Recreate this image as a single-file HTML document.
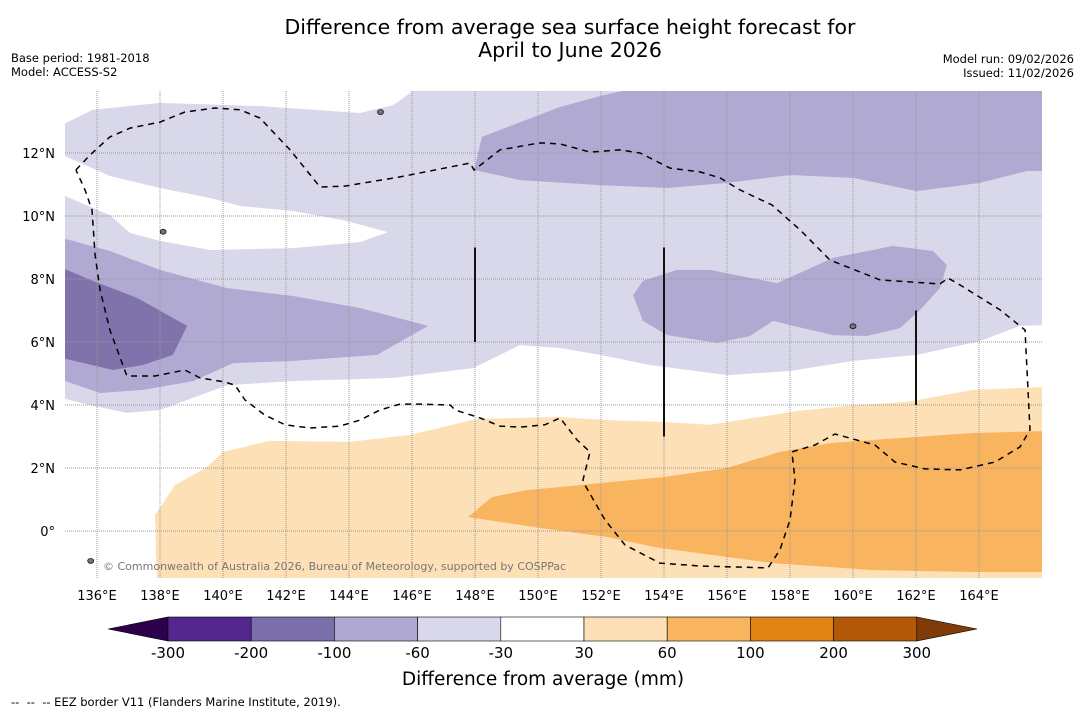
<!DOCTYPE html>
<html><head><meta charset="utf-8">
<style>
html,body{margin:0;padding:0;background:#fff;}
svg{display:block;font-family:"DejaVu Sans","Liberation Sans",sans-serif;}
</style></head>
<body>
<svg id="chart" width="1085" height="713" viewBox="0 0 1085 713" xmlns="http://www.w3.org/2000/svg">
<defs><clipPath id="plotclip"><rect x="65" y="91" width="977" height="487"/></clipPath></defs>
<text x="570" y="34" font-size="20.5" text-anchor="middle" fill="#000">Difference from average sea surface height forecast for</text>
<text x="570" y="57" font-size="20.5" text-anchor="middle" fill="#000">April to June 2026</text>
<text x="11" y="62" font-size="11.5">Base period: 1981-2018</text>
<text x="11" y="76" font-size="11.5">Model: ACCESS-S2</text>
<text x="1074" y="63" font-size="11.5" text-anchor="end">Model run: 09/02/2026</text>
<text x="1074" y="77" font-size="11.5" text-anchor="end">Issued: 11/02/2026</text>
<g id="plot" clip-path="url(#plotclip)"></g>
<g id="axes"></g>
<g id="cbar"></g>
<text x="543" y="685" font-size="18.5" text-anchor="middle">Difference from average (mm)</text>
<text x="11" y="706" font-size="11.5" xml:space="preserve">--  --  -- EEZ border V11 (Flanders Marine Institute, 2019).</text>
</svg>
<script>
const lonTicks=[136,138,140,142,144,146,148,150,152,154,156,158,160,162,164];
const latTicks=[0,2,4,6,8,10,12];
const cbarLevels=[-300,-200,-100,-60,-30,30,60,100,200,300];
const cbarColors=["#54278f","#7b6fab","#afa9d1","#d8d8ea","#ffffff","#fde0b6","#f9b460","#e08214","#b35806"];
const lightPurple=[[135,12.95],[135.87,13.37],[138,13.59],[141.17,13.49],[144.35,13.27],[145.4,13.52],[145.94,13.9],[146.1,14.1],[166.1,14.1],[166.1,6.54],[165.3,6.51],[164.03,6.03],[162.03,5.59],[160,5.4],[158,5.08],[156,4.95],[153.56,5.27],[151.97,5.59],[150.7,5.81],[149.43,5.9],[147.94,5.17],[145.4,4.86],[142.22,4.76],[140.13,4.63],[138,3.84],[136.95,3.75],[135.87,3.97],[134.9,4.22],[134.9,12.95]];
const whiteGap=[[134.9,11.94],[136.41,11.27],[138,10.89],[139.59,10.57],[140.54,10.32],[142.22,10.16],[143.81,9.87],[145.24,9.49],[144.35,9.17],[142.22,8.98],[139.59,8.92],[138,9.21],[137.05,9.46],[136.41,10.03],[134.9,10.67]];
const mediumPurpleLeft=[[134.9,9.3],[136.41,8.89],[138,8.29],[140.13,7.71],[142.22,7.46],[144.35,7.08],[146.51,6.51],[145.84,6.13],[144.89,5.59],[142.22,5.4],[140.32,5.33],[139.05,4.76],[137.46,4.48],[136.1,4.38],[134.9,4.79]];
const darkPurple=[[134.9,8.35],[135.87,7.94],[137.27,7.4],[138.86,6.51],[138.41,5.59],[137.46,5.27],[136.51,5.11],[134.9,5.49]];
const mediumPurpleTop=[[148.22,12.51],[150.7,13.46],[151.97,13.81],[153.24,14.1],[166.1,14.1],[166.1,11.43],[165.52,11.43],[164.03,11.05],[162.03,10.79],[160,11.21],[158,11.3],[156,11.05],[154.1,10.89],[151.97,10.98],[149.43,11.14],[147.97,11.46]];
const mediumPurpleBlob=[[153.02,7.49],[153.33,7.94],[154.41,8.29],[155.46,8.29],[157.59,7.87],[159.37,8.67],[161.27,9.05],[162.54,8.89],[162.98,8.44],[162.76,7.71],[162.13,7.02],[161.49,6.44],[160.44,6.19],[159.37,6.22],[158.1,6.51],[157.46,6.67],[156.73,6.19],[155.68,5.97],[154.1,6.22],[153.33,6.67]];
const lightOrange=[[137.9,-1.7],[137.84,0.51],[138.48,1.46],[139.49,2.03],[140,2.51],[141.49,2.86],[144.03,2.83],[145.94,3.05],[148.06,3.56],[150.7,3.62],[152.19,3.52],[153.97,3.46],[155.46,3.37],[156.41,3.52],[158.22,3.81],[160.13,4.0],[161.71,4.1],[163.81,4.48],[166.1,4.57],[166.1,-1.7]];
const mediumOrange=[[147.78,0.44],[148.54,1.08],[149.65,1.3],[151.97,1.52],[153.97,1.71],[156,2.0],[157.68,2.51],[159.27,2.79],[160.63,2.89],[163.81,3.11],[166.1,3.17],[166.1,-1.3],[163.81,-1.3],[160.63,-1.24],[157.46,-1.02],[153.87,-0.54],[152.19,-0.19],[150.06,0.1]];
const eezBorder=[[135.33,11.46],[135.78,11.94],[136.41,12.51],[137.05,12.79],[138,12.98],[138.79,13.3],[139.75,13.43],[140.54,13.37],[141.17,13.11],[142.13,12.1],[143.08,10.92],[143.87,10.95],[145.62,11.24],[147.84,11.68],[147.97,11.46],[148.79,12.1],[150.06,12.32],[150.7,12.29],[151.65,12.03],[152.6,12.1],[153.24,12.0],[154.19,11.52],[155.14,11.4],[155.78,11.21],[156.41,10.83],[157.43,10.35],[158.32,9.56],[159.27,8.6],[160.86,7.97],[162.76,7.84],[163.02,8.03],[163.4,7.81],[164.67,7.02],[165.46,6.38],[165.62,3.21],[165.3,2.67],[164.51,2.19],[163.4,1.94],[162.29,1.97],[161.33,2.19],[160.7,2.73],[160.22,2.86],[159.43,3.08],[158.79,2.73],[158.06,2.51],[158.16,1.62],[158,0.35],[157.68,-0.6],[157.3,-1.17],[155.14,-1.11],[153.87,-1.02],[152.76,-0.44],[152.13,0.35],[151.49,1.46],[151.43,1.62],[151.65,2.51],[151.24,2.89],[150.7,3.59],[150.22,3.37],[149.43,3.3],[148.79,3.33],[148.16,3.59],[147.37,3.84],[147.21,4.0],[146.25,4.03],[145.62,4.03],[144.98,3.84],[144.35,3.52],[143.71,3.33],[142.76,3.27],[141.97,3.37],[141.33,3.68],[140.7,4.16],[140.38,4.63],[140.06,4.73],[139.27,4.86],[138.79,5.11],[137.84,4.92],[136.95,4.92],[136.41,6.38],[136.1,7.65],[135.94,8.76],[135.84,10.19],[135.62,10.83],[135.33,11.46]];
const boundaryLines=[[[148,9],[148,6]],[[154,9],[154,3]],[[162,7],[162,4]]];
const islands=[[145.0,13.3],[135.8,-0.95],[160.0,6.5],[138.1,9.5]];

const NS="http://www.w3.org/2000/svg";
function xs(lon){return 97+(lon-136)*31.5;}
function ys(lat){return 531-lat*31.5;}
function mk(tag,attrs,parent){const e=document.createElementNS(NS,tag);for(const k in attrs)e.setAttribute(k,attrs[k]);parent.appendChild(e);return e;}
function pts(arr){return arr.map(p=>xs(p[0]).toFixed(1)+","+ys(p[1]).toFixed(1)).join(" ");}
const plot=document.getElementById("plot");
const axes=document.getElementById("axes");
const cbar=document.getElementById("cbar");

const layers=[[lightPurple,"#d8d8ea","light-purple-region"],[whiteGap,"#ffffff","white-gap-region"],[mediumPurpleLeft,"#b0a9d1","medium-purple-left-region"],[darkPurple,"#8072ab","dark-purple-region"],[mediumPurpleTop,"#b0a9d1","medium-purple-top-region"],[mediumPurpleBlob,"#b0a9d1","medium-purple-blob-region"],[lightOrange,"#fde0b6","light-orange-region"],[mediumOrange,"#f9b460","medium-orange-region"]];
layers.forEach(l=>{
  const p=mk("polygon",{points:pts(l[0]),fill:l[1]},plot);
  
  
});
lonTicks.forEach(lon=>{
  const g=mk("line",{x1:xs(lon),x2:xs(lon),y1:91,y2:578,stroke:"#999","stroke-width":1,"stroke-dasharray":"1,1"},plot);
  
  
  const t=mk("text",{x:xs(lon),y:600,"font-size":13,"text-anchor":"middle"},axes);
  t.textContent=lon+"°E";
  
  
});
latTicks.forEach(lat=>{
  const g=mk("line",{x1:65,x2:1042,y1:ys(lat),y2:ys(lat),stroke:"#999","stroke-width":1,"stroke-dasharray":"1,1"},plot);
  
  
  const t=mk("text",{x:55,y:ys(lat)+5,"font-size":13,"text-anchor":"end"},axes);
  t.textContent=lat===0?"0°":lat+"°N";
  
  
});
const eez=mk("polyline",{points:pts(eezBorder),fill:"none",stroke:"#000","stroke-width":1.5,"stroke-dasharray":"6,5"},plot);


boundaryLines.forEach(b=>{
  const l=mk("line",{x1:xs(b[0][0]),y1:ys(b[0][1]),x2:xs(b[1][0]),y2:ys(b[1][1]),stroke:"#111","stroke-width":2},plot);
  
  
});
islands.forEach(i=>{
  const c=mk("ellipse",{cx:xs(i[0]),cy:ys(i[1]),rx:3,ry:2.5,fill:"#777",stroke:"#000","stroke-width":0.7},plot);
  
  
});
const cr=mk("text",{x:103,y:570,"font-size":11,fill:"#777"},plot);
cr.textContent="© Commonwealth of Australia 2026, Bureau of Meteorology, supported by COSPPac";



const cbX0=168,cbW=83.2,cbY=617,cbH=24;
function cbx(i){return cbX0+i*cbW;}
const lt=mk("polygon",{points:`108,${cbY+cbH/2} ${cbX0},${cbY} ${cbX0},${cbY+cbH}`,fill:"#2d004b",stroke:"#000","stroke-width":0.6},cbar);


cbarColors.forEach((c,i)=>{
  const r=mk("rect",{x:cbx(i),y:cbY,width:cbW,height:cbH,fill:c,stroke:"#000","stroke-width":0.6},cbar);
  
  
});
const rt=mk("polygon",{points:`${cbx(cbarColors.length)},${cbY} 977,${cbY+cbH/2} ${cbx(cbarColors.length)},${cbY+cbH}`,fill:"#7f3b08",stroke:"#000","stroke-width":0.6},cbar);


cbarLevels.forEach((v,i)=>{
  const t=mk("text",{x:cbx(i),y:658,"font-size":15,"text-anchor":"middle"},cbar);
  t.textContent=v;
  
  
});
</script>
</body></html>
